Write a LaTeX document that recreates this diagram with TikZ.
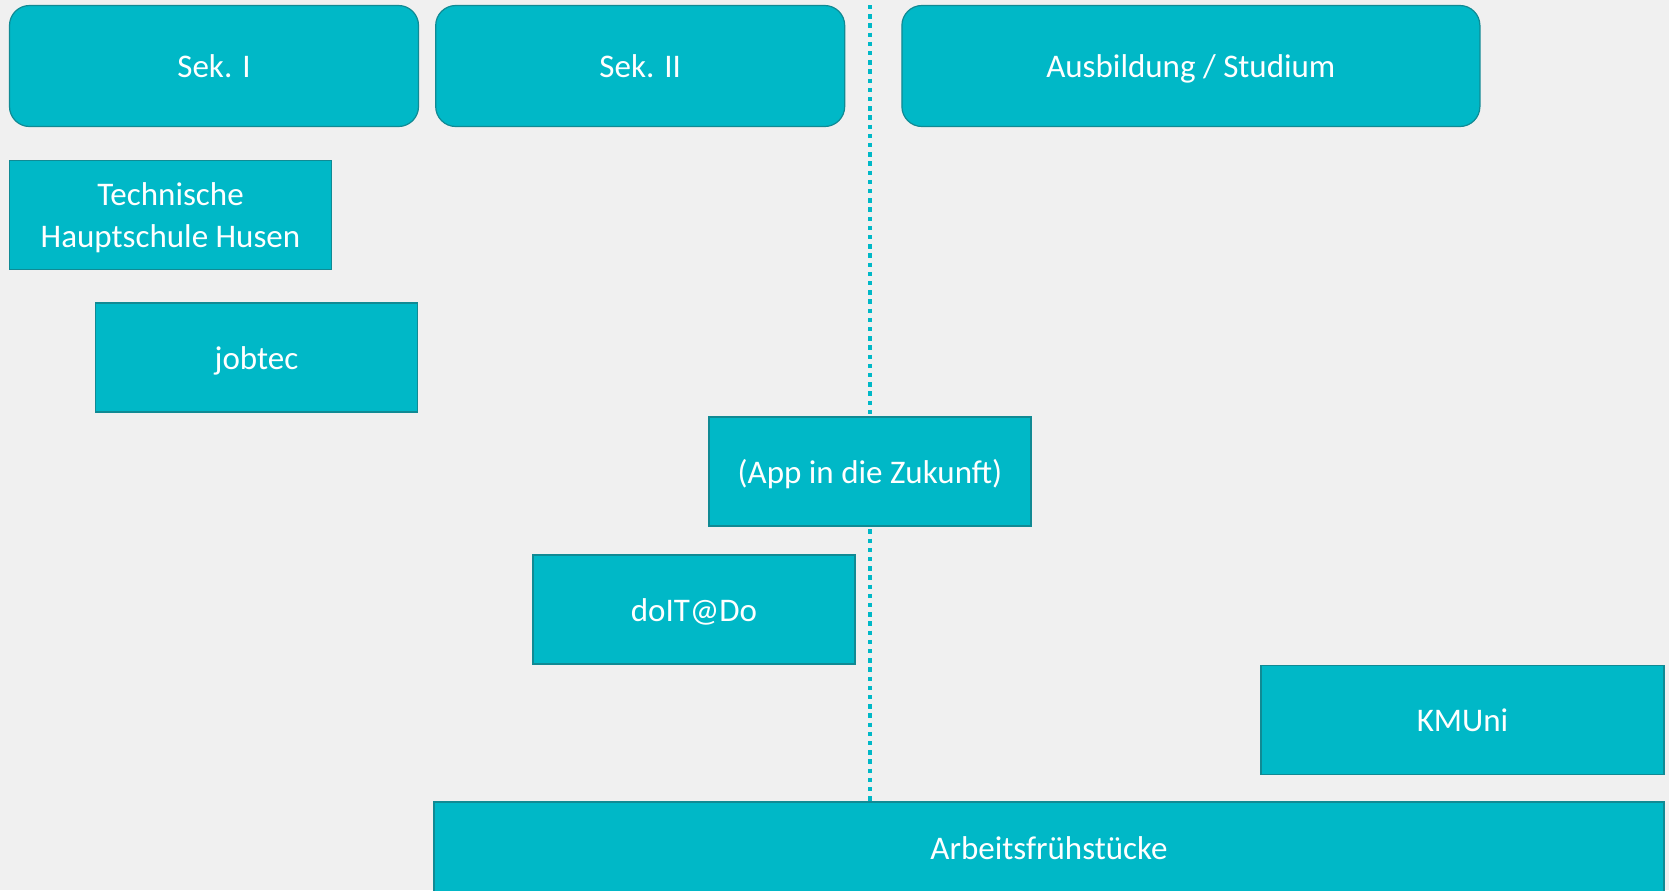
\documentclass[tikz,border=0pt]{standalone}
\usepackage{fontspec}
\setmainfont{Carlito}
\usepackage{xcolor}
\usepackage{tikz}
\usetikzlibrary{positioning}
\definecolor{boxfill}{RGB}{0,184,199}
\definecolor{boxedge}{RGB}{16,138,148}
\definecolor{bgcol}{RGB}{240,240,240}
\tikzstyle{phase} = [rectangle, rounded corners=10pt, minimum height=60.5pt, fill=boxfill, draw=boxedge, line width=0.6pt, text=white, text centered, text height=12.5pt, text depth=1pt, font=\fontsize{16.5}{21}\selectfont]
\tikzstyle{offer} = [rectangle, minimum width=161pt, minimum height=54.5pt, fill=boxfill, draw=boxedge, line width=0.6pt, text=white, align=center, text height=12.5pt, text depth=1pt, font=\fontsize{16.5}{21}\selectfont]
\tikzstyle{divider} = [boxfill, line width=2.2pt, dash pattern=on 2.2pt off 2.4pt]

\begin{document}
\begin{tikzpicture}
			[x=0.5pt, y=-0.5pt, node distance=8pt]
			\fill[bgcol] (0,0) rectangle (1669,890);
			\useasboundingbox (0,0) rectangle (1669,890);
			\clip (0,0) rectangle (1669,890);
			
			\coordinate (divtop) at (870,5);
			\coordinate (divbot) at (870,802);
			\draw[divider] (divtop) -- (divbot);
			
			\node[phase, minimum width=204.5pt] (sek1) at (214,66) {Sek. I};
			\node[phase, minimum width=204.5pt, right=8pt of sek1] (sek2) {Sek. II};
			\node[phase, minimum width=289pt, right=28pt of sek2] (ausb) {Ausbildung / Studium};
			
			\node[offer, text height=, text depth=0.5pt, below right=16.5pt and 0pt of sek1.south west] (husen) {Technische\\Hauptschule Husen};
			\node[offer] (jobtec) at (256.5,357.5) {jobtec};
			\node[offer] (app) at (870,471.5) {(App in die Zukunft)};
			\node[offer] (doit) at (694,609.5) {doIT@Do};
			\node[offer, minimum width=201.5pt] (kmuni) at (1462.5,720) {KMUni};
			\node[offer, minimum width=615pt, minimum height=50pt] (arbeit) at (1049,852) {};
			\node[text=white, text height=12.5pt, text depth=1pt, font=\fontsize{16.5}{21}\selectfont] (arbeitlabel) at (1049,848) {Arbeitsfrühstücke};
			\end{tikzpicture}
\end{document}
